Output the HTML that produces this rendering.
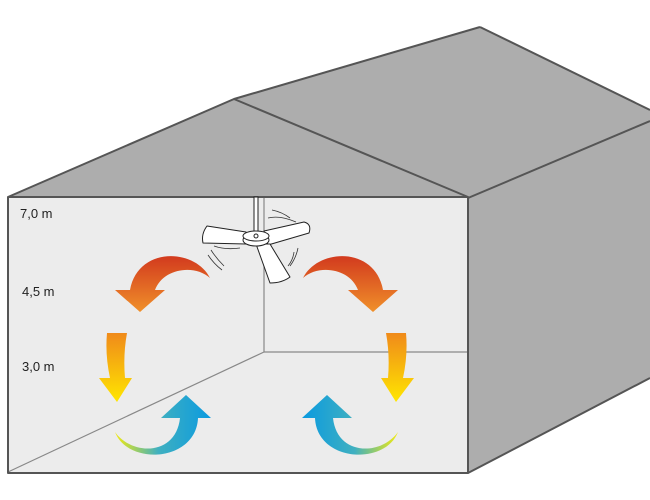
<!DOCTYPE html>
<html><head><meta charset="utf-8"><style>html,body{margin:0;padding:0;background:#fff}svg{display:block}</style></head>
<body>
<svg width="650" height="500" viewBox="0 0 650 500" xmlns="http://www.w3.org/2000/svg">
<defs>
<linearGradient id="red" x1="0" y1="0" x2="0" y2="1"><stop offset="0" stop-color="#d23a1e"/><stop offset="1" stop-color="#f0902a"/></linearGradient>
<linearGradient id="yel" x1="0" y1="0" x2="0" y2="1"><stop offset="0" stop-color="#f08a1a"/><stop offset="1" stop-color="#ffe600"/></linearGradient>
<linearGradient id="blu" x1="0" y1="0" x2="1" y2="0"><stop offset="0" stop-color="#f2ea10"/><stop offset="0.45" stop-color="#40b0c0"/><stop offset="1" stop-color="#0a9ae0"/></linearGradient>
</defs>
<polygon points="234,99 480,27 650,110 650,121 468,198" fill="#adadad"/>
<polygon points="468,198 650,121 650,378 468,473" fill="#adadad"/>
<polygon points="8,197 234,99 468,197" fill="#adadad"/>
<rect x="8" y="197" width="460" height="276" fill="#ececec"/>
<g stroke="#888" stroke-width="1.2" fill="none">
<line x1="264" y1="197" x2="264" y2="352"/>
<line x1="264" y1="352" x2="468" y2="352"/>
<line x1="264" y1="352" x2="8" y2="472"/>
</g>
<g stroke="#555" stroke-width="2" fill="none" stroke-linejoin="round">
<polyline points="8,197 234,99 468,197"/>
<line x1="234" y1="99" x2="480" y2="27"/>
<line x1="480" y1="27" x2="650" y2="110"/>
<line x1="468" y1="198" x2="650" y2="121"/>
<line x1="468" y1="473" x2="650" y2="378"/>
<rect x="8" y="197" width="460" height="276"/>
</g>
<g font-family="Liberation Sans, sans-serif" font-size="13" fill="#222">
<text x="20" y="218">7,0 m</text>
<text x="22" y="296">4,5 m</text>
<text x="22" y="371">3,0 m</text>
</g>
<g stroke="#222" stroke-width="1" fill="#fff" stroke-linejoin="round">
<rect x="254" y="197" width="4" height="36" fill="#fff"/>
<path d="M246,232 L207,226 Q201,234 203,243 L246,244 Z"/>
<path d="M264,231 L304,222 Q312,224 309,233 L268,245 Z"/>
<path d="M256,244 L270,283 Q282,283 290,277 L270,244 Z"/>
<ellipse cx="256" cy="240" rx="13" ry="6"/>
<ellipse cx="256" cy="236" rx="13" ry="5"/>
<circle cx="256" cy="236" r="2"/>
</g>
<g stroke="#333" stroke-width="0.8" fill="none">
<path d="M272,210 Q282,212 290,218"/><path d="M268,218 Q280,215 296,222"/>
<path d="M208,255 Q214,264 222,270"/><path d="M211,250 Q216,258 224,266"/>
<path d="M298,248 Q296,258 290,266"/><path d="M294,252 Q293,260 288,266"/>
<path d="M214,246 Q225,250 240,248"/>
</g>
<g id="L">
<path d="M210,278 C195,248 138,246 130,290 L115,290 L140,312 L165,290 L155,290 C163,268 195,264 210,278 Z" fill="url(#red)"/>
<path d="M107,333 L127,333 Q123,355 125,378 L132,378 L117,402 L99,378 L110,378 Q105,355 107,333 Z" fill="url(#yel)"/>
<path d="M115,432 C132,456 176,456 180,418 L161,418 L186,395 L211,418 L198,418 C196,462 128,466 115,432 Z" fill="url(#blu)"/>
</g>
<use href="#L" transform="translate(513,0) scale(-1,1)"/>
</svg>
</body></html>
